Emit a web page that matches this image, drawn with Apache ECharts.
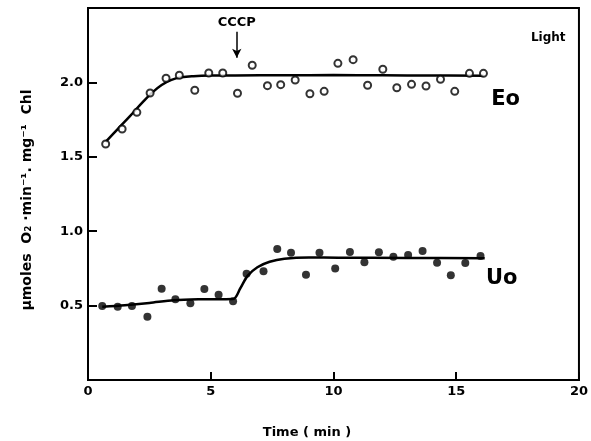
<!DOCTYPE html>
<html>
<head>
<meta charset="utf-8">
<script src="https://cdn.jsdelivr.net/npm/echarts@6/dist/echarts.min.js"></script>
<style>html,body{margin:0;padding:0;background:#fff}#c{width:591px;height:441px}</style>
</head>
<body>
<div id="c"></div>
<script>
// Eo (open circles)
const eoX = [0.72,1.39,1.99,2.53,3.18,3.72,4.35,4.92,5.49,6.09,6.69,7.31,7.85,8.44,9.04,9.62,10.18,10.80,11.39,12.01,12.58,13.18,13.77,14.36,14.94,15.54,16.11];
const eoY = [1.586,1.687,1.799,1.929,2.028,2.048,1.947,2.063,2.063,1.927,2.115,1.978,1.985,2.016,1.924,1.940,2.128,2.153,1.981,2.088,1.964,1.987,1.976,2.021,1.940,2.061,2.061];
// Eo fitted curve
const eoFitX = [0.72,1.2,1.7,2.2,2.6,3.0,3.4,3.8,4.3,5.0,6.0,8.0,10.0,12.0,14.0,16.11];
const eoFitY = [1.600,1.685,1.772,1.862,1.930,1.983,2.017,2.034,2.042,2.046,2.047,2.048,2.049,2.048,2.046,2.045];
// Uo (filled circles)
const uoX = [0.58,1.21,1.79,2.42,3.00,3.56,4.17,4.74,5.32,5.91,6.46,7.15,7.71,8.27,8.88,9.43,10.07,10.67,11.26,11.85,12.44,13.04,13.63,14.22,14.78,15.37,15.99];
const uoY = [0.497,0.493,0.497,0.425,0.614,0.542,0.515,0.612,0.573,0.529,0.714,0.731,0.880,0.855,0.708,0.855,0.749,0.860,0.791,0.858,0.829,0.840,0.867,0.788,0.704,0.786,0.833];
// Uo fitted curve
const uoFitX = [0.58,1.5,2.5,3.5,4.5,5.91,6.2,6.5,6.9,7.4,8.0,9.0,10.2,13.0,16.16];
const uoFitY = [0.493,0.503,0.518,0.536,0.542,0.544,0.615,0.700,0.758,0.795,0.815,0.823,0.822,0.820,0.818];
// axis ticks
const xTicks = [0,5,10,15,20];
const yTicks = [0.5,1.0,1.5,2.0];
// annotations
const annText = ['CCCP','Light','Eo','Uo'];
const annX = [6.06,18.75,17.01,16.85];
const annY = [2.399,2.298,1.882,0.679];
const annSizes = [13,12,21,21];
const arrowX = [6.06,6.06];
const arrowY = [2.34,2.165];

const zip = (a,b) => a.map((v,i)=>[v,b[i]]);
const FONT = 'DejaVu Sans';

const chart = echarts.init(document.getElementById('c'));
chart.setOption({
  animation:false,
  backgroundColor:'#fff',
  grid:{left:88,right:8,top:8,bottom:61,show:true,borderColor:'#000',borderWidth:2,backgroundColor:'transparent'},
  xAxis:{type:'value',min:0,max:20,interval:5,
    axisLine:{lineStyle:{color:'#000',width:2}},
    axisTick:{inside:true,length:8,lineStyle:{color:'#000',width:2}},
    splitLine:{show:false},
    axisLabel:{color:'#000',fontFamily:FONT,fontWeight:'bold',fontSize:13,margin:5,
      formatter:v=>xTicks.includes(v)?String(v):''}
  },
  yAxis:{type:'value',min:0,max:2.5,interval:0.5,
    axisLine:{lineStyle:{color:'#000',width:2}},
    axisTick:{inside:true,length:9,lineStyle:{color:'#000',width:2}},
    splitLine:{show:false},
    axisLabel:{color:'#000',fontFamily:FONT,fontWeight:'bold',fontSize:13,margin:5,
      formatter:v=>yTicks.some(t=>Math.abs(t-v)<1e-9)?v.toFixed(1):''}
  },
  series:[
    {type:'line',data:zip(eoFitX,eoFitY),smooth:0.4,showSymbol:false,lineStyle:{color:'#000',width:2.5},z:2,
      markLine:{silent:true,symbol:['none','arrow'],symbolSize:[7,9],lineStyle:{color:'#000',width:1.5,type:'solid'},label:{show:false},
        data:[[{coord:[arrowX[0],arrowY[0]]},{coord:[arrowX[1],arrowY[1]]}]]}},
    {type:'line',data:zip(uoFitX,uoFitY),smooth:0.3,showSymbol:false,lineStyle:{color:'#000',width:2.5},z:2},
    {type:'scatter',data:zip(eoX,eoY),symbol:'circle',symbolSize:7,itemStyle:{color:'#fff',borderColor:'#000',borderWidth:2},z:3},
    {type:'scatter',data:zip(uoX,uoY),symbol:'circle',symbolSize:8,itemStyle:{color:'#000'},z:3}
  ]
});
const graphics = [
  {type:'text',x:307,y:433,style:{text:'Time ( min )',fill:'#000',font:'bold 13px "'+FONT+'"',textAlign:'center',textVerticalAlign:'middle'}},
  {type:'text',x:27,y:200,rotation:Math.PI/2,style:{text:'μmoles  O₂ ·min⁻¹. mg⁻¹  Chl',fill:'#000',font:'bold 14px "'+FONT+'"',textAlign:'center',textVerticalAlign:'middle'}}
];
annText.forEach((t,i)=>{
  const p = chart.convertToPixel({gridIndex:0},[annX[i],annY[i]]);
  graphics.push({type:'text',x:p[0],y:p[1],z:10,style:{text:t,fill:'#000',font:'bold '+annSizes[i]+'px "'+FONT+'"',textAlign:'center',textVerticalAlign:'middle'}});
});
chart.setOption({graphic:graphics});
</script>
</body>
</html>
